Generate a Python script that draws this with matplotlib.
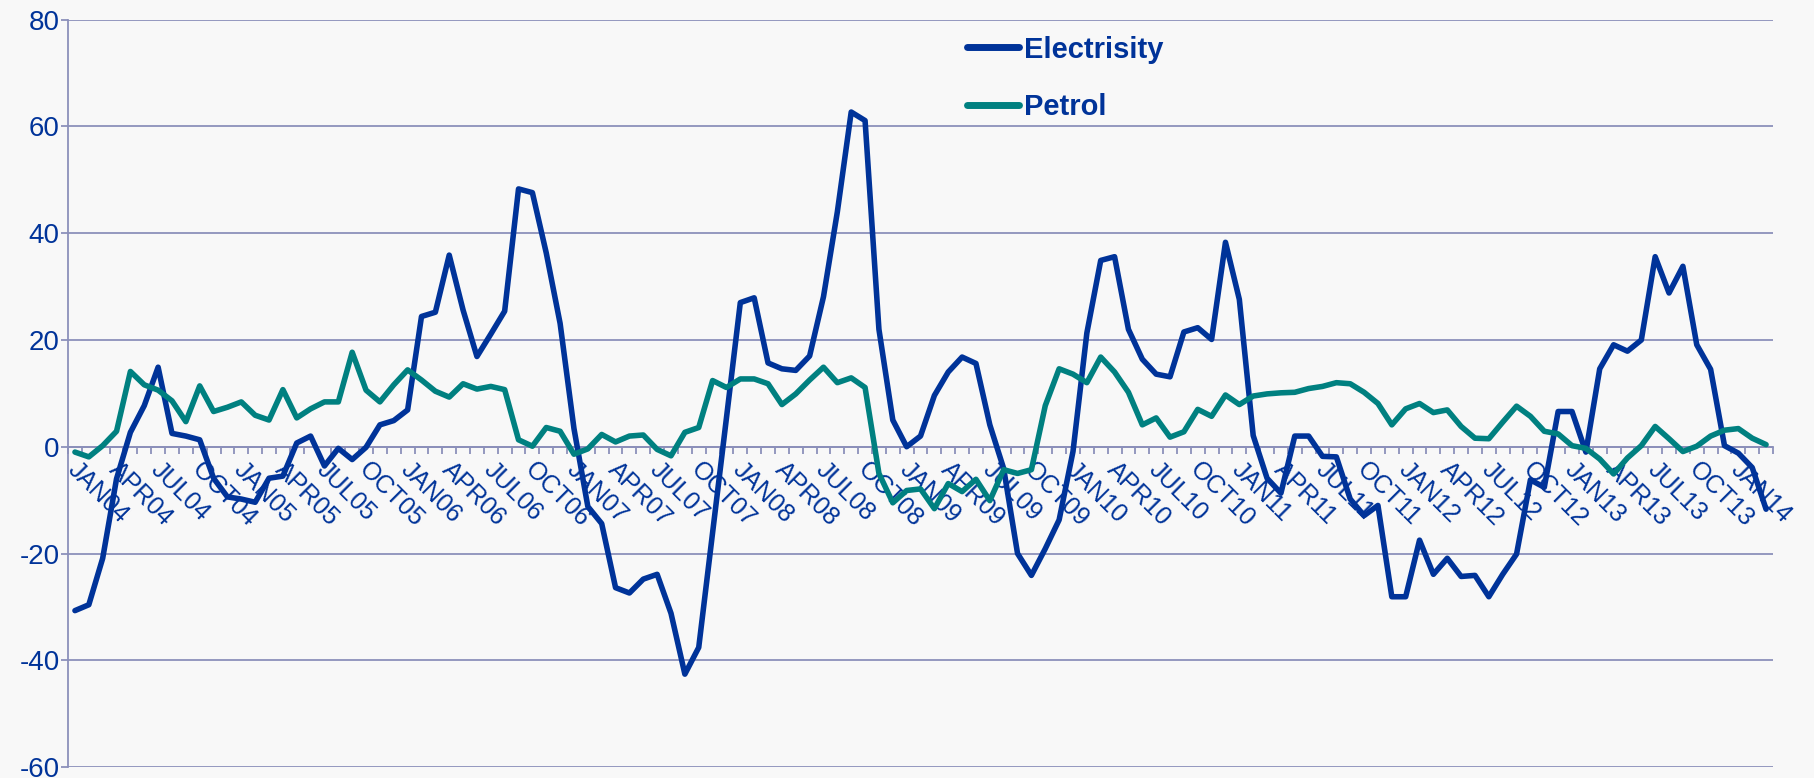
import numpy as np
import matplotlib
matplotlib.use("Agg")
import matplotlib.pyplot as plt
import matplotlib.transforms as mtransforms

# Monthly series, JAN04 .. MAR14
electricity = [
    -30.7, -29.6, -20.9, -6.0, 2.7, 7.7, 14.9, 2.5, 2.0, 1.3, -5.9, -9.4,
    -9.8, -10.4, -5.9, -5.5, 0.7, 2.0, -3.6, -0.3, -2.4, -0.1, 4.1, 4.9,
    6.9, 24.4, 25.2, 35.9, 25.6, 16.9, 21.1, 25.4, 48.3, 47.6, 36.3, 23.1,
    3.4, -11.2, -14.4, -26.4, -27.4, -24.8, -23.9, -31.2, -42.6, -37.6, -16.1, 5.4,
    27.0, 27.9, 15.7, 14.6, 14.3, 17.0, 28.1, 44.0, 62.7, 61.1, 22.0, 5.0,
    0.0, 2.0, 9.6, 14.0, 16.8, 15.6, 4.1, -4.1, -20.0, -24.1, -19.1, -13.7,
    -0.9, 21.3, 34.9, 35.6, 22.0, 16.4, 13.6, 13.1, 21.5, 22.3, 20.1, 38.3,
    27.6, 2.1, -5.9, -8.7, 2.0, 2.0, -1.8, -1.9, -9.8, -12.9, -11.0, -28.1,
    -28.1, -17.5, -23.9, -20.9, -24.3, -24.1, -28.1, -23.9, -20.1, -6.2, -7.6, 6.6,
    6.6, -1.0, 14.6, 19.1, 17.9, 20.0, 35.6, 28.8, 33.8, 19.1, 14.5, 0.2,
    -1.2, -3.9, -11.7,
]
petrol = [
    -1.0, -1.9, 0.2, 2.9, 14.1, 11.6, 10.6, 8.6, 4.7, 11.4, 6.6, 7.4,
    8.4, 5.9, 5.0, 10.7, 5.4, 7.1, 8.4, 8.4, 17.7, 10.6, 8.4, 11.6,
    14.4, 12.5, 10.4, 9.3, 11.8, 10.8, 11.3, 10.7, 1.3, 0.1, 3.6, 2.9,
    -1.4, -0.4, 2.3, 0.9, 2.0, 2.2, -0.5, -1.7, 2.7, 3.6, 12.4, 11.1,
    12.7, 12.7, 11.8, 7.9, 9.9, 12.5, 14.9, 12.0, 12.9, 11.1, -5.0, -10.5,
    -8.2, -7.9, -11.6, -6.9, -8.4, -6.1, -10.1, -4.3, -5.0, -4.3, 7.7, 14.6,
    13.6, 12.0, 16.8, 14.0, 10.2, 4.1, 5.4, 1.8, 2.8, 7.0, 5.7, 9.7,
    7.9, 9.5, 9.9, 10.1, 10.2, 10.9, 11.3, 12.0, 11.8, 10.2, 8.1, 4.1,
    7.1, 8.1, 6.4, 6.9, 3.8, 1.6, 1.5, 4.6, 7.6, 5.7, 2.9, 2.4,
    0.2, -0.3, -2.3, -5.1, -2.1, 0.2, 3.8, 1.5, -0.9, 0.1, 2.0, 3.1,
    3.4, 1.6, 0.4,
]
months = ["JAN", "APR", "JUL", "OCT"]
years = list(range(4, 15))
tick_labels = [f"{m}{y:02d}" for y in years for m in months][:41]

BLUE = "#003399"
TEAL = "#008080"
GRID = "#8C90BA"
BG = "#F8F8F8"

plt.rcParams["font.family"] = ["Liberation Sans", "DejaVu Sans"]
plt.rcParams["axes.unicode_minus"] = False

fig = plt.figure(figsize=(18.14, 7.78), dpi=100, facecolor=BG)
ax = fig.add_axes([0.0375, 0.0141, 0.9399, 0.9606], facecolor=BG)

x = np.arange(len(electricity))
ax.plot(x, electricity, color=BLUE, lw=4.0, label="Electrisity",
        solid_capstyle="round", zorder=3)
ax.plot(x, petrol, color=TEAL, lw=4.0, label="Petrol",
        solid_capstyle="round", zorder=3)

ax.set_xlim(-0.5, len(electricity) - 0.5)
ax.set_ylim(-60, 80)
ax.set_yticks(np.arange(-60, 81, 20))
ax.yaxis.grid(True, color=GRID, lw=1.3)
ax.set_axisbelow(True)

# category axis crosses at zero
ax.spines["bottom"].set_position(("data", 0))
ax.spines["bottom"].set_color(GRID)
ax.spines["bottom"].set_linewidth(1.3)
ax.spines["left"].set_color(GRID)
ax.spines["left"].set_linewidth(1.3)
ax.spines["top"].set_visible(False)
ax.spines["right"].set_visible(False)

ax.set_xticks(np.arange(0, len(electricity), 3))
ax.set_xticklabels(tick_labels, rotation=-45, ha="left", va="top",
                   rotation_mode="anchor", fontsize=18, color=BLUE)
ax.set_xticks(np.arange(-0.5, len(electricity), 1), minor=True)
ax.tick_params(axis="x", which="major", length=0, pad=8)
ax.tick_params(axis="x", which="minor", length=5, width=1.3, color=GRID,
               direction="out")
ax.tick_params(axis="y", length=5, width=1.3, color=GRID, labelcolor=BLUE,
               labelsize=20, pad=1)

# nudge the slanted month labels a little to the right
shift = mtransforms.ScaledTranslation(5 / 100, 0, fig.dpi_scale_trans)
for lbl in ax.get_xticklabels():
    lbl.set_transform(lbl.get_transform() + shift)

leg = ax.legend(loc="upper left", bbox_to_anchor=(0.5185, 0.988),
                bbox_transform=fig.transFigure, frameon=False,
                handlelength=1.8, handletextpad=0.15, labelspacing=1.0,
                prop={"weight": "bold", "size": 21})
for t in leg.get_texts():
    t.set_color(BLUE)
for h in leg.get_lines():
    h.set_linewidth(5)
    h.set_solid_capstyle("round")

fig.savefig("out.png", dpi=100, facecolor=BG)
